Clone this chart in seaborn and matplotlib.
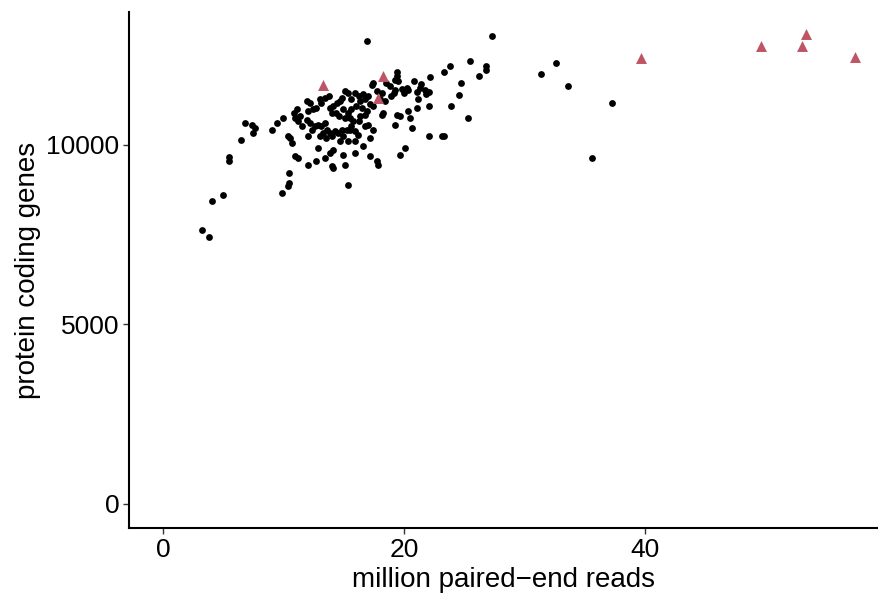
import matplotlib
matplotlib.use("Agg")
import matplotlib.pyplot as plt
import seaborn as sns
import pandas as pd

# ---- data (million paired-end reads, protein coding genes) ----
reads_main = [
    3.2, 3.8, 4.05, 4.9, 5.4, 5.45, 6.4, 6.8, 7.35, 7.6, 7.45, 9.0, 9.4,
    16.9, 22.1, 19.4, 19.35, 19.2, 19.5, 20.8, 21.4, 21.3, 21.7, 22.0, 21.8,
    21.0, 21.15, 20.2, 20.0, 20.3, 19.8, 19.2, 19.1, 18.8, 18.5, 18.9, 17.4,
    17.3, 18.1, 18.0, 18.4, 17.7, 15.1, 15.3, 15.6, 15.9, 16.2, 16.3, 16.6,
    16.7, 17.0, 17.1, 16.45, 16.0, 15.6, 15.3, 14.9, 14.65, 14.8, 14.4, 14.1,
    13.8, 13.95, 14.35, 14.6, 15.05, 15.5, 15.75, 16.2, 16.3, 16.7, 16.85,
    17.4, 17.0, 16.7, 13.7, 13.4, 13.0, 13.1, 12.7, 12.4, 12.15, 11.9, 12.0,
    11.05, 10.8, 10.9, 11.3, 11.2, 11.5, 11.9, 12.2, 12.3, 12.6, 12.85, 13.1,
    13.4, 13.55, 13.8, 13.25, 13.0, 13.5, 13.95, 14.2, 14.5, 14.8, 15.2,
    15.45, 15.6, 15.9, 16.15, 15.9, 15.35, 14.9, 14.65, 12.0, 10.5, 10.3,
    10.65, 17.4, 17.15, 16.6, 15.9, 14.9, 14.1, 13.8, 13.4, 12.7, 12.0, 11.2,
    10.9, 12.85, 17.15, 17.7, 17.8, 15.35, 14.1, 13.95, 15.05, 18.25, 18.1,
    19.35, 19.6, 19.2, 20.3, 20.45, 20.6, 20.05, 19.6, 22.0, 21.0, 22.0,
    10.45, 10.45, 10.35, 9.8, 9.9,
    27.25, 25.45, 23.8, 23.3, 26.75, 26.75, 26.15, 24.7, 24.55, 23.9, 25.3,
    23.25, 23.1, 31.35, 32.55, 33.55, 37.25, 35.6,
]
genes_main = [
    7630, 7440, 8430, 8600, 9555, 9665, 10140, 10590, 10550, 10475, 10330, 10420, 10590,
    12880, 11880, 12030, 11910, 11810, 11770, 11770, 11700, 11580, 11530, 11460, 11400,
    11460, 11260, 11580, 11440, 11530, 11550, 11530, 11440, 11630, 11720, 11350, 11720,
    11670, 11440, 11260, 11210, 11490, 11490, 11440, 11260, 11440, 11350, 11210, 11400,
    11260, 11350, 11120, 11020, 11070, 10980, 10880, 10980, 11210, 11300, 11160, 11070,
    11020, 10880, 10880, 10790, 10750, 10750, 10650, 10650, 10790, 10840, 10930,
    11070, 10560, 10510, 11350, 11300, 11260, 11160, 11020, 10980, 11160, 11210, 10930,
    10980, 10880, 10750, 10790, 10650, 10510, 10700, 10610, 10420, 10510, 10560, 10510,
    10610, 10420, 10330, 10330, 10230, 10190, 10230, 10370, 10330, 10420, 10420,
    10420, 10510, 10370, 10280, 10100, 10100, 10230, 10100, 10230, 10190, 10230,
    10050, 10420, 10190, 9960, 9770, 9720, 9860, 9770, 9630, 9540, 9440, 9630,
    9680, 9910, 9680, 9540, 9440, 8890, 9350, 9400, 9440, 10880, 10840,
    10840, 10790, 10560, 10930, 10750, 10470, 9910, 9720, 10230, 11020, 11070,
    9210, 8930, 8840, 8660, 10740,
    13020, 12320, 12180, 12010, 12180, 12070, 11910, 11720, 11390, 11090, 10740,
    10250, 10230, 11970, 12280, 11640, 11160, 9630,
]
reads_tri = [13.2, 18.25, 17.8, 39.6, 49.6, 53.0, 53.3, 57.4]
genes_tri = [11670, 11920, 11300, 12420, 12740, 12740, 13090, 12440]

x_ticks = [0, 20, 40]
y_ticks = [0, 5000, 10000]
x_title = "million paired\u2212end reads"
y_title = "protein coding genes"

df_main = pd.DataFrame({"reads": reads_main, "genes": genes_main})
df_tri = pd.DataFrame({"reads": reads_tri, "genes": genes_tri})

sns.set_theme(style="ticks")
plt.rcParams["font.family"] = ["Liberation Sans", "DejaVu Sans"]

fig = plt.figure(figsize=(8.79, 5.96), dpi=100)
ax = fig.add_axes([129 / 879, 68 / 596, 1 - 129 / 879, (584 - 68) / 596])

sns.scatterplot(data=df_main, x="reads", y="genes", ax=ax, color="black",
                s=24, linewidth=0, marker="o", zorder=3)
sns.scatterplot(data=df_tri, x="reads", y="genes", ax=ax, color="#BE5466",
                s=62, linewidth=0, marker="^", zorder=4)

ax.set_xlim(-2.86, 59.38)
ax.set_ylim(-669, 13693)
ax.set_xticks(x_ticks)
ax.set_yticks(y_ticks)
ax.set_xticklabels([str(v) for v in x_ticks])
ax.set_yticklabels([str(v) for v in y_ticks])

for side in ["top", "right"]:
    ax.spines[side].set_visible(False)
for side in ["left", "bottom"]:
    ax.spines[side].set_linewidth(1.5)
    ax.spines[side].set_color("black")

ax.tick_params(axis="both", which="major", length=4, width=1.0, color="#333333",
               labelsize=19, labelcolor="black", pad=3)
ax.set_xlabel(x_title, fontsize=20, color="black", labelpad=4)
ax.set_ylabel(y_title, fontsize=20, color="black", labelpad=4)
ax.grid(False)
ax.set_facecolor("white")
fig.patch.set_facecolor("white")

fig.savefig("out.png", dpi=100, facecolor="white")
